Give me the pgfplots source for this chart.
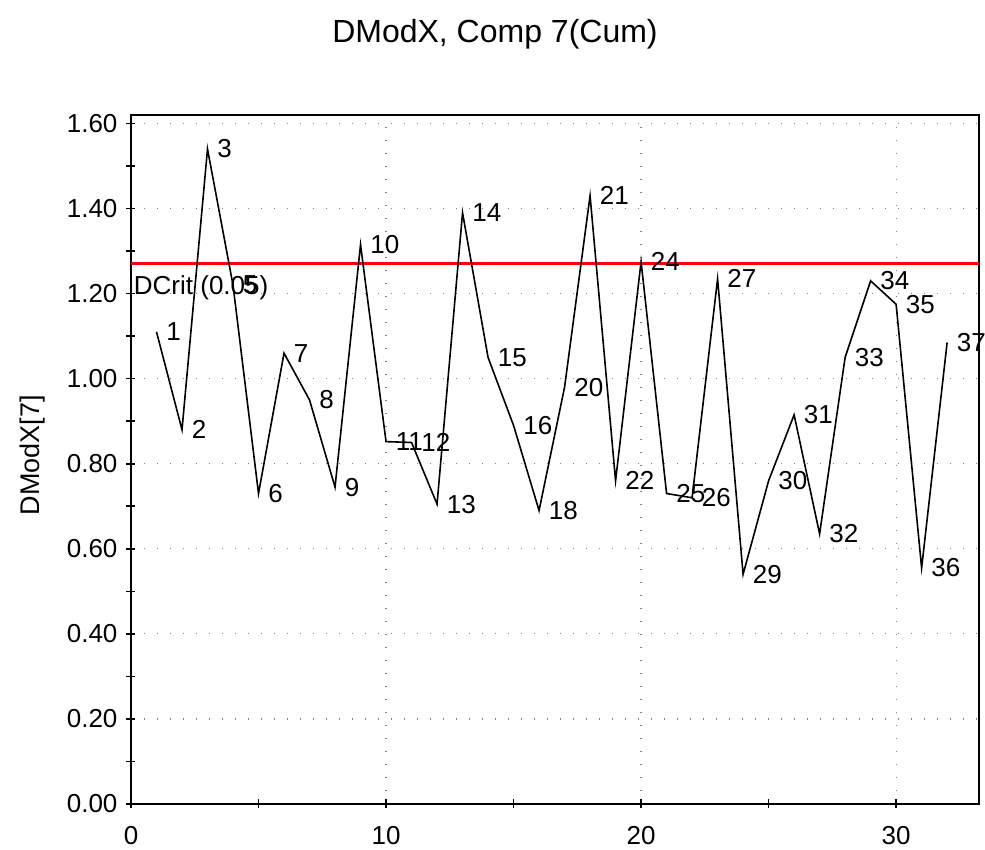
\documentclass[border=0pt]{standalone}
\usepackage{fontspec}
\setmainfont{Liberation Sans}
\usepackage{pgfplots}
\pgfplotsset{compat=1.18}
\usepackage{pgfplotstable}
\pgfplotstableread{
x y lab
1 1.110 1
2 0.880 2
3 1.540 3
4 1.220 5
5 0.730 6
6 1.060 7
7 0.950 8
8 0.745 9
9 1.315 10
10 0.852 11
11 0.850 12
12 0.705 13
13 1.390 14
14 1.050 15
15 0.890 16
16 0.690 18
17 0.980 20
18 1.430 21
19 0.760 22
20 1.275 24
21 0.730 25
22 0.720 26
23 1.235 27
24 0.540 29
25 0.760 30
26 0.915 31
27 0.635 32
28 1.050 33
29 1.230 34
30 1.175 35
31 0.555 36
32 1.085 37
}\dmodx
\begin{document}
\begin{tikzpicture}[font=\fontsize{13pt}{15pt}\selectfont]
\path[use as bounding box] (-65.5pt,-23pt) rectangle (427pt,402pt);
\begin{axis}[
  scale only axis,
  width=424pt, height=344.5pt,
  xmin=0, xmax=33.25, ymin=0, ymax=1.62,
  axis line style={line width=0.9pt},
  xtick={0,10,20,30},
  minor xtick={5,15,25},
  ytick={0,0.2,...,1.61},
  minor ytick={0.1,0.3,...,1.55},
  xtick pos=bottom, ytick pos=left,
  tick align=center,
  major tick length=4.5pt, minor tick length=4.5pt,
  every tick/.style={black, line width=0.8pt},
  minor tick style={black, line width=0.8pt},
  xmajorgrids, ymajorgrids,
  major grid style={gray, line width=0.6pt, dash pattern=on 0.6pt off 5.9pt},
  /pgf/number format/assume math mode=true,
  ticklabel style={font=\fontsize{13pt}{15pt}\selectfont},
  yticklabel style={/pgf/number format/fixed, /pgf/number format/zerofill, /pgf/number format/precision=2, xshift=-1pt},
  xticklabel style={yshift=-5.5pt},
  ylabel={DModX[7]},
  every axis y label/.style={at={(axis description cs:-0.1167,0.5065)}, anchor=center, rotate=90, font=\fontsize{13.5pt}{15pt}\selectfont},
  clip=false,
]
\addplot[red, line width=1.6pt, forget plot] coordinates {(0,1.27) (33.25,1.27)};
\addplot[black, line width=0.8pt, mark=none,
  nodes near coords, point meta=explicit symbolic,
  nodes near coords align=horizontal,
  every node near coord/.append style={anchor=west, inner sep=0pt, xshift=4.5pt, black, font=\fontsize{13pt}{15pt}\selectfont}]
  table[x=x, y=y, meta=lab] {\dmodx};
\node[anchor=north west, inner sep=0pt] at (axis cs:0.1,1.243) {DCrit (0.05)};
\end{axis}
\node[anchor=base, inner sep=0pt, font=\fontsize{16pt}{18pt}\selectfont] at (182pt,380.5pt) {DModX, Comp 7(Cum)};
\end{tikzpicture}
\end{document}
